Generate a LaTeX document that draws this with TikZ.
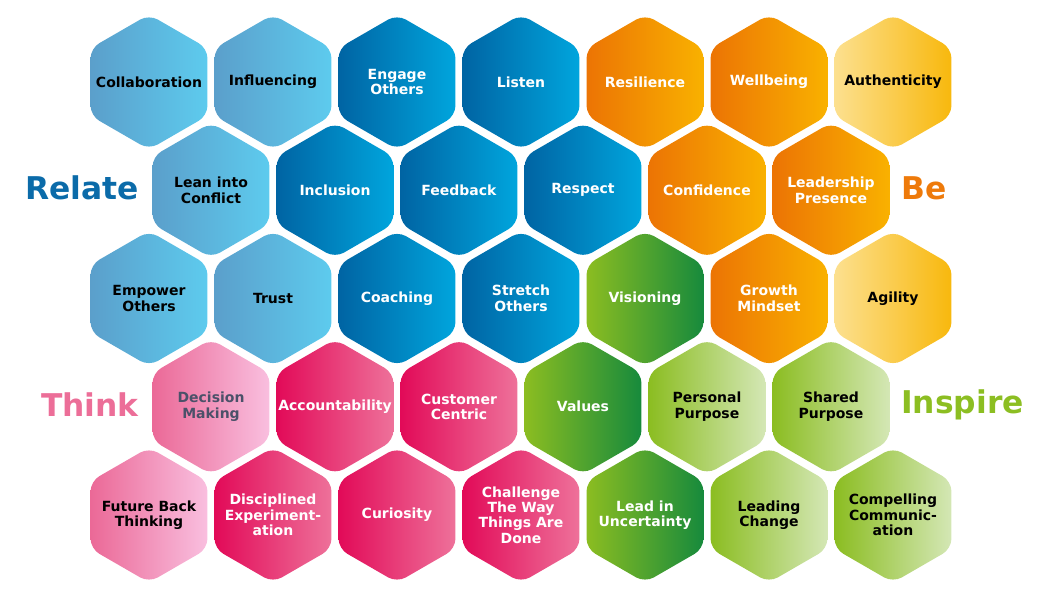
\documentclass[tikz,border=0pt]{standalone}
\usepackage{fontspec}
\setmainfont{DejaVu Sans}
\usetikzlibrary{shapes.geometric}

\definecolor{relL}{HTML}{5B9FCB}
\definecolor{relR}{HTML}{5DCBEE}
\definecolor{dkbL}{HTML}{0064A3}
\definecolor{dkbR}{HTML}{00A5DD}
\definecolor{orgL}{HTML}{EC7404}
\definecolor{orgR}{HTML}{F9B100}
\definecolor{ylwL}{HTML}{FCE08F}
\definecolor{ylwR}{HTML}{F8B80D}
\definecolor{grnL}{HTML}{8BBD21}
\definecolor{grnR}{HTML}{178A3C}
\definecolor{lgrL}{HTML}{8BBD21}
\definecolor{lgrR}{HTML}{D4E7B5}
\definecolor{magL}{HTML}{E20A58}
\definecolor{magR}{HTML}{EE719A}
\definecolor{pnkL}{HTML}{EB6997}
\definecolor{pnkR}{HTML}{F9BFDF}
\definecolor{slate}{HTML}{4B5169}
\definecolor{relC}{HTML}{0B6BA9}
\definecolor{beC}{HTML}{EE7A0A}
\definecolor{thinkC}{HTML}{EC6E98}
\definecolor{inspC}{HTML}{8CBE22}

\begin{document}
\begin{tikzpicture}[x=0.75pt,y=-0.75pt,
    hex/.style={regular polygon, regular polygon sides=6, shape border rotate=30,
      minimum size=101.25pt, inner xsep=-30pt, inner ysep=0pt, rounded corners=7.5pt,
      align=center, font=\bfseries\fontsize{10.5}{11.6}\selectfont},
    rel/.style={hex, left color=relL, right color=relR, text=black},
    dkb/.style={hex, left color=dkbL, right color=dkbR, text=white},
    org/.style={hex, left color=orgL, right color=orgR, text=white},
    ylw/.style={hex, left color=ylwL, right color=ylwR, text=black},
    grn/.style={hex, left color=grnL, right color=grnR, text=white},
    lgr/.style={hex, left color=lgrL, right color=lgrR, text=black},
    mag/.style={hex, left color=magL, right color=magR, text=white},
    pnk/.style={hex, left color=pnkL, right color=pnkR, text=black},
    pnkd/.style={pnk, text=slate},
    big/.style={inner sep=0pt, font=\bfseries\fontsize{23.5}{28}\selectfont}]
  \useasboundingbox (0,0) rectangle (1040,595);

  % row 1
  \foreach \t/\s[count=\i from 0] in {
    Collaboration/rel,
    Influencing/rel,
    Engage\\Others/dkb,
    Listen/dkb,
    Resilience/org,
    Wellbeing/org,
    Authenticity/ylw%
  }
  {
    \node[\s] (a\i) at (149+124*\i,82) {\t};
  }
  % row 2
  \foreach \t/\s[count=\i from 0] in {
    Lean into\\Conflict/rel,
    Inclusion/dkb,
    Feedback/dkb,
    Respect/dkb,
    Confidence/org,
    Leadership\\Presence/org%
  }
  {
    \node[\s] (b\i) at (211+124*\i,190.25) {\t};
  }
  % row 3
  \foreach \t/\s[count=\i from 0] in {
    Empower\\Others/rel,
    Trust/rel,
    Coaching/dkb,
    Stretch\\Others/dkb,
    Visioning/grn,
    Growth\\Mindset/org,
    Agility/ylw%
  }
  {
    \node[\s] (c\i) at (149+124*\i,298.5) {\t};
  }
  % row 4
  \foreach \t/\s[count=\i from 0] in {
    Decision\\Making/pnkd,
    Accountability/mag,
    Customer\\Centric/mag,
    Values/grn,
    Personal\\Purpose/lgr,
    Shared\\Purpose/lgr%
  }
  {
    \node[\s] (d\i) at (211+124*\i,406.75) {\t};
  }
  % row 5
  \foreach \t/\s[count=\i from 0] in {
    Future Back\\Thinking/pnk,
    Disciplined\\Experiment-\\ation/mag,
    Curiosity/mag,
    Challenge\\The Way\\Things Are\\Done/mag,
    Lead in\\Uncertainty/grn,
    Leading\\Change/lgr,
    Compelling\\Communic-\\ation/lgr%
  }
  {
    \node[\s] (e\i) at (149+124*\i,515) {\t};
  }

  \node[big, text=relC, anchor=east] (relate) at (139,188) {Relate};
  \node[big, text=beC, anchor=west] (be) at (901,188) {Be};
  \node[big, text=thinkC, anchor=east] (think) at (139,405) {Think};
  \node[big, text=inspC, anchor=west] (inspire) at (901,405) {Inspire};
\end{tikzpicture}
\end{document}
